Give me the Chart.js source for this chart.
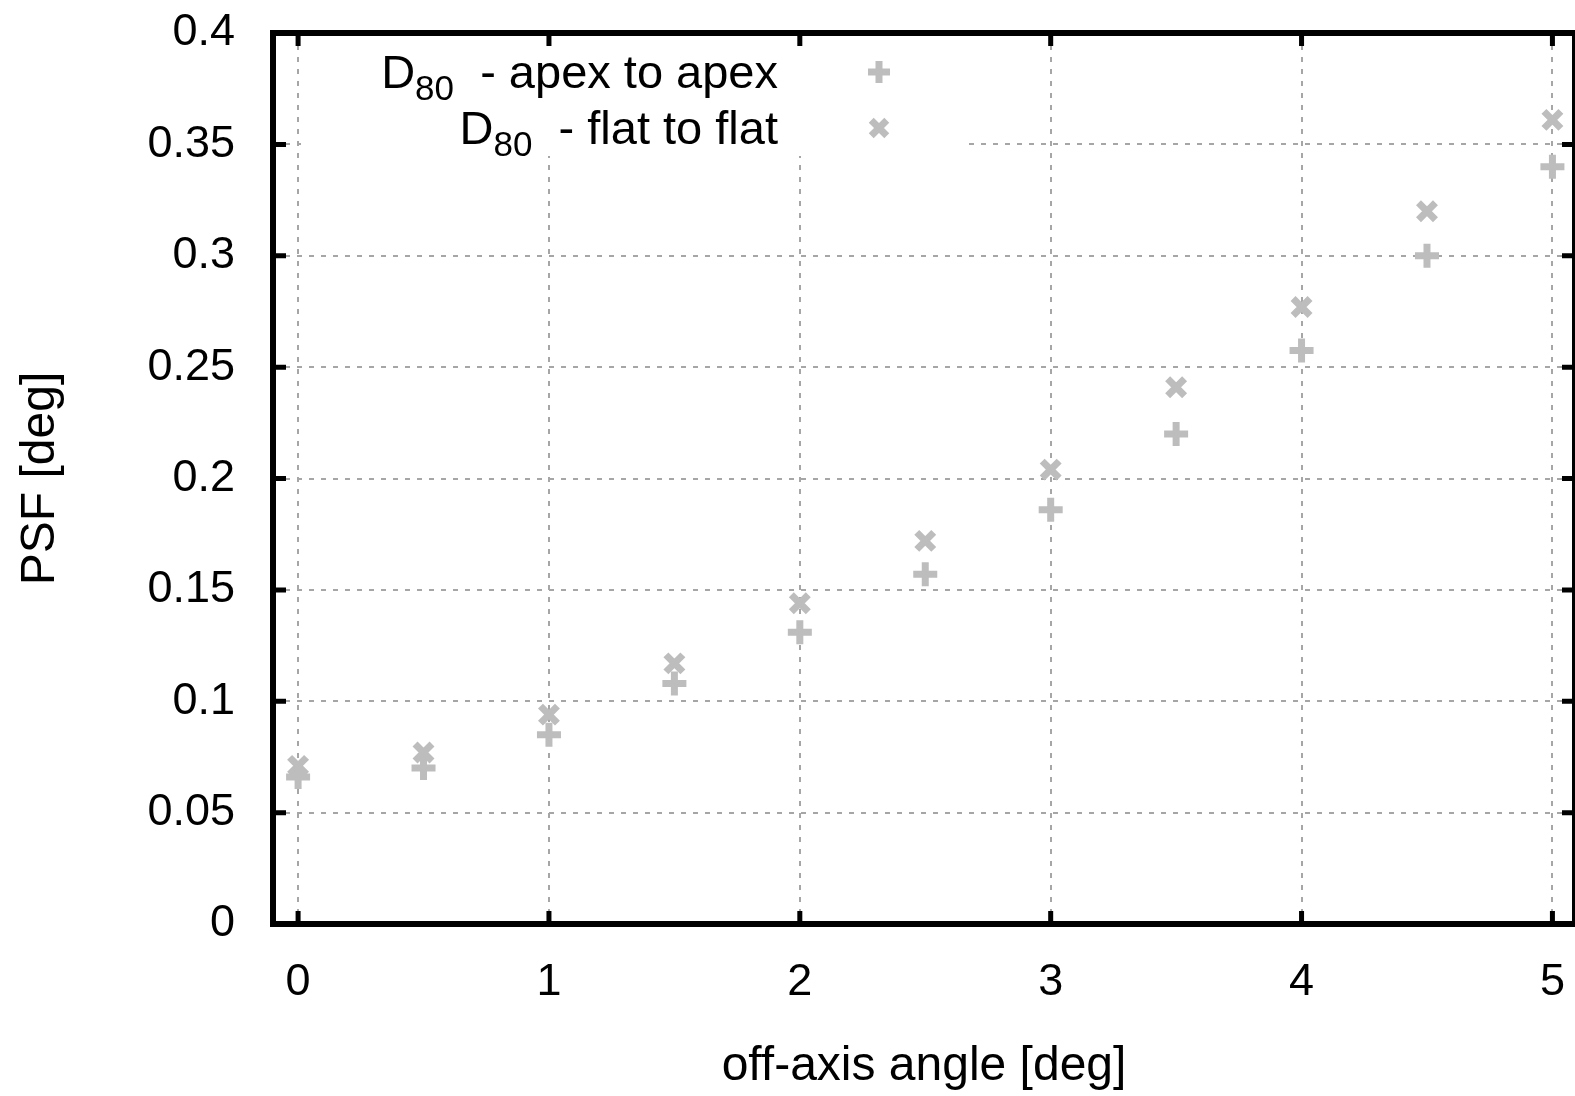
<!DOCTYPE html>
<html>
<head>
<meta charset="utf-8">
<script src="https://cdn.jsdelivr.net/npm/chart.js@4.4.1/dist/chart.umd.min.js"></script>
<style>
  html, body { margin: 0; padding: 0; background: #fff; overflow: hidden; }
  #wrap { width: 1575px; height: 1096px; position: relative; }
</style>
</head>
<body>
<div id="wrap"><canvas id="psfChart"></canvas></div>
<script>
// DATOS
const angles = [0, 0.5, 1, 1.5, 2, 2.5, 3, 3.5, 4, 4.5, 5];
const apexToApex = [0.066, 0.070, 0.085, 0.108, 0.131, 0.157, 0.186, 0.220, 0.2575, 0.300, 0.340];
const flatToFlat = [0.071, 0.077, 0.094, 0.117, 0.144, 0.172, 0.204, 0.241, 0.277, 0.320, 0.361];
const xTicks = [0, 1, 2, 3, 4, 5];
const yTicks = [0, 0.05, 0.1, 0.15, 0.2, 0.25, 0.3, 0.35, 0.4];
const seriesNames = ['apex to apex', 'flat to flat'];

const FONT = 'Liberation Sans, Arial, sans-serif';
const GREY = '#bdbdbd';
const GRID = '#a6a6a6';

// marco + ticks hacia dentro
const framePlugin = {
    id: 'frame',
    afterDraw(chart) {
        const { ctx, chartArea: a, scales: { x, y } } = chart;
        ctx.save();
        ctx.strokeStyle = '#000';
        ctx.lineWidth = 5;
        xTicks.forEach(v => {
            const px = x.getPixelForValue(v);
            ctx.beginPath();
            ctx.moveTo(px, a.bottom); ctx.lineTo(px, a.bottom - 13);
            ctx.moveTo(px, a.top); ctx.lineTo(px, a.top + 13);
            ctx.stroke();
        });
        yTicks.forEach(v => {
            const py = y.getPixelForValue(v);
            ctx.beginPath();
            ctx.moveTo(a.left, py); ctx.lineTo(a.left + 13, py);
            ctx.moveTo(a.right, py); ctx.lineTo(a.right - 13, py);
            ctx.stroke();
        });
        ctx.lineWidth = 6;
        ctx.strokeRect(a.left, a.top, a.right - a.left, a.bottom - a.top);
        ctx.restore();
    }
};

// leyenda estilo gnuplot dentro del area
const keyPlugin = {
    id: 'gnuKey',
    beforeDatasetsDraw(chart) {
        const { ctx, chartArea: a } = chart;
        ctx.save();
        ctx.fillStyle = '#fff';
        ctx.fillRect(301, a.top + 3, 664, 120);
        const rightX = 778;
        const rows = [88, 144];
        const styles = ['cross', 'crossRot'];
        rows.forEach((base, i) => {
            ctx.fillStyle = '#000';
            ctx.textBaseline = 'alphabetic';
            ctx.textAlign = 'right';
            ctx.font = '47px ' + FONT;
            const rest = '  - ' + seriesNames[i];
            const wRest = ctx.measureText(rest).width;
            ctx.fillText(rest, rightX, base);
            ctx.font = '35px ' + FONT;
            const wSub = ctx.measureText('80').width;
            ctx.fillText('80', rightX - wRest, base + 12);
            ctx.font = '47px ' + FONT;
            ctx.fillText('D', rightX - wRest - wSub, base);
            ctx.strokeStyle = GREY;
            ctx.fillStyle = GREY;
            ctx.lineWidth = 7;
            Chart.helpers.drawPoint(ctx, {
                pointStyle: styles[i], radius: 11, borderWidth: 7
            }, 879, base - 16);
        });
        ctx.restore();
    }
};

document.addEventListener('DOMContentLoaded', function() {
    const ctx = document.getElementById('psfChart').getContext('2d');
    Chart.defaults.font.family = FONT;
    Chart.defaults.color = '#000';

    const psfChart = new Chart(ctx, {
        type: 'scatter',
        data: {
            datasets: [{
                label: seriesNames[0],
                data: angles.map((a, i) => ({ x: a, y: apexToApex[i] })),
                pointStyle: 'cross',
                pointRadius: 12,
                pointBorderWidth: 7,
                borderColor: GREY,
                backgroundColor: GREY
            }, {
                label: seriesNames[1],
                data: angles.map((a, i) => ({ x: a, y: flatToFlat[i] })),
                pointStyle: 'crossRot',
                pointRadius: 12,
                pointBorderWidth: 7,
                borderColor: GREY,
                backgroundColor: GREY
            }]
        },
        options: {
            responsive: true,
            maintainAspectRatio: false,
            animation: false,
            layout: {
                autoPadding: false,
                padding: { top: 33, right: 0, left: 0, bottom: 0 }
            },
            plugins: {
                legend: { display: false },
                tooltip: { enabled: false }
            },
            scales: {
                x: {
                    type: 'linear',
                    min: -0.1,
                    max: 5.09,
                    afterBuildTicks: s => { s.ticks = xTicks.map(v => ({ value: v })); },
                    afterFit: s => { s.height = 172; s.paddingLeft = 0; s.paddingRight = 0; },
                    border: { display: false, dash: [5, 7] },
                    grid: {
                        color: GRID,
                        lineWidth: 2,
                        drawTicks: false
                    },
                    ticks: {
                        padding: 32,
                        maxRotation: 0,
                        font: { size: 45 }
                    },
                    title: {
                        display: true,
                        text: 'off-axis angle [deg]',
                        font: { size: 48 },
                        padding: { top: 0, bottom: 0 }
                    }
                },
                y: {
                    type: 'linear',
                    min: 0,
                    max: 0.4,
                    afterBuildTicks: s => { s.ticks = yTicks.map(v => ({ value: v })); },
                    afterFit: s => { s.width = 273; s.paddingTop = 0; s.paddingBottom = 0; },
                    border: { display: false, dash: [5, 7] },
                    grid: {
                        color: GRID,
                        lineWidth: 2,
                        drawTicks: false
                    },
                    ticks: {
                        padding: 38,
                        font: { size: 45 },
                        callback: v => String(+v.toFixed(2))
                    },
                    title: {
                        display: true,
                        text: 'PSF [deg]',
                        font: { size: 48 },
                        padding: { top: 12, bottom: 0 }
                    }
                }
            }
        },
        plugins: [keyPlugin, framePlugin]
    });
});
</script>
</body>
</html>
